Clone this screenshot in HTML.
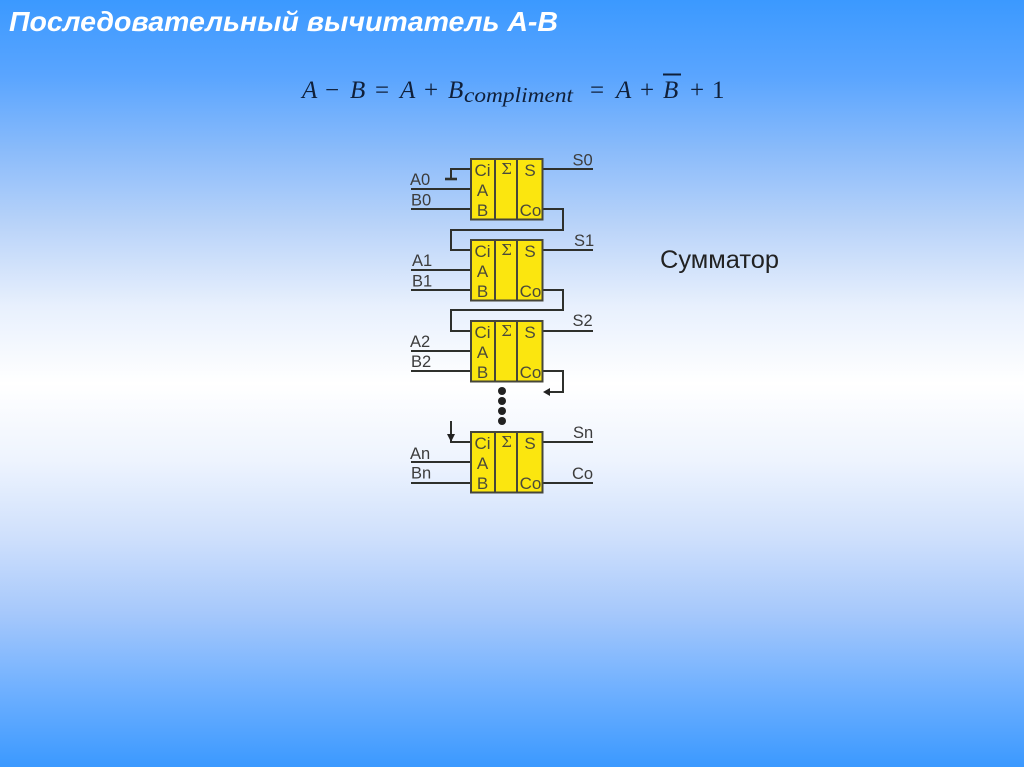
<!DOCTYPE html>
<html><head><meta charset="utf-8">
<style>
html,body{margin:0;padding:0}
body{width:1024px;height:767px;overflow:hidden;position:relative;background:linear-gradient(180deg,#3b99ff 0%,#5aa5ff 10%,#8cbcfa 20%,#bcd5f9 30%,#e8f0fd 40%,#ffffff 50%,#eef4fe 60%,#cfe0fc 70%,#a6c8fb 80%,#6fb0ff 90%,#3b99ff 100%);font-family:"Liberation Sans",sans-serif}
svg{position:absolute;left:0;top:0}
.d{filter:blur(0.35px)}
</style></head><body>
<svg width="1024" height="767" viewBox="0 0 1024 767" xmlns="http://www.w3.org/2000/svg">
<text x="9" y="31" font-family="Liberation Sans" font-size="28" font-weight="bold" font-style="italic" fill="#fff" textLength="549" lengthAdjust="spacingAndGlyphs">Последовательный вычитатель А-В</text>

<g font-family="Liberation Serif" font-size="25" fill="#10203a">
<text x="302" y="98" font-style="italic">A</text>
<text x="325" y="98">−</text>
<text x="350" y="98" font-style="italic">B</text>
<text x="375" y="98">=</text>
<text x="400" y="98" font-style="italic">A</text>
<text x="424" y="98">+</text>
<text x="448" y="98" font-style="italic">B</text>
<text x="464" y="102" font-style="italic" font-size="21" textLength="109" lengthAdjust="spacingAndGlyphs">compliment</text>
<text x="590" y="98">=</text>
<text x="616" y="98" font-style="italic">A</text>
<text x="640" y="98">+</text>
<text x="663" y="98" font-style="italic">B</text>
<text x="690" y="98">+</text>
<text x="712" y="98">1</text>
</g>
<rect x="663" y="73.500" width="18" height="2" fill="#10203a"/>

<text x="660" y="268" font-size="25" fill="#222" textLength="119" lengthAdjust="spacingAndGlyphs">Сумматор</text>

<g class="d">
<g fill="none" stroke="#2e302c" stroke-width="2">
<path d="M471 169H451V179"/>
<path d="M445 179H457" stroke-width="2.600"/>
<path d="M411 189H471M411 209H471M542 169H593"/>
<path d="M542 209H563V230H451V250H471"/>
<path d="M411 270H471M411 290H471M542 250H593"/>
<path d="M542 290H563V310H451V331H471"/>
<path d="M411 351H471M411 371H471M542 331H593"/>
<path d="M542 371H563V392H548"/>
<path d="M451 421V442H471M411 462H471M411 483H471M542 442H593M542 483H593"/>
</g>
<path d="M543 392L550 388V396Z" fill="#222"/>
<path d="M447 434H455L451 442Z" fill="#222"/>

<g fill="#222">
<circle cx="502" cy="391" r="4"/><circle cx="502" cy="401" r="4"/><circle cx="502" cy="411" r="4"/><circle cx="502" cy="421" r="4"/>
</g>

<defs>
<g id="blk">
<rect x="0" y="0" width="71.500" height="60.500" fill="#fbe60f" stroke="#46463a" stroke-width="2"/>
<path d="M24 0V60.500M46 0V60.500" stroke="#46463a" stroke-width="2" fill="none"/>
</g>
</defs>
<use href="#blk" x="471" y="159"/>
<use href="#blk" x="471" y="240"/>
<use href="#blk" x="471" y="321"/>
<use href="#blk" x="471" y="432"/>

<g font-size="17" fill="#4a4a3a" text-anchor="middle">
<text x="482.500" y="176">Ci</text><text x="482.500" y="196">A</text><text x="482.500" y="216">B</text><text x="530" y="176">S</text><text x="530.500" y="216">Co</text><text x="506.500" y="174" font-size="15" font-family="DejaVu Serif">Σ</text>
<text x="482.500" y="257">Ci</text><text x="482.500" y="277">A</text><text x="482.500" y="297">B</text><text x="530" y="257">S</text><text x="530.500" y="297">Co</text><text x="506.500" y="255" font-size="15" font-family="DejaVu Serif">Σ</text>
<text x="482.500" y="338">Ci</text><text x="482.500" y="358">A</text><text x="482.500" y="378">B</text><text x="530" y="338">S</text><text x="530.500" y="378">Co</text><text x="506.500" y="336" font-size="15" font-family="DejaVu Serif">Σ</text>
<text x="482.500" y="449">Ci</text><text x="482.500" y="469">A</text><text x="482.500" y="489">B</text><text x="530" y="449">S</text><text x="530.500" y="489">Co</text><text x="506.500" y="447" font-size="15" font-family="DejaVu Serif">Σ</text>
</g>

<g font-size="16.500" fill="#3c3c3c">
<text x="410" y="185">A0</text><text x="411" y="205.500">B0</text><text x="572.500" y="165.500">S0</text>
<text x="412" y="266">A1</text><text x="412" y="286.500">B1</text><text x="574" y="246">S1</text>
<text x="410" y="347">A2</text><text x="411" y="367">B2</text><text x="572.500" y="326">S2</text>
<text x="410" y="459">An</text><text x="411" y="478.500">Bn</text><text x="573" y="438">Sn</text><text x="572" y="479">Co</text>
</g>
</g>
</svg>
</body></html>
